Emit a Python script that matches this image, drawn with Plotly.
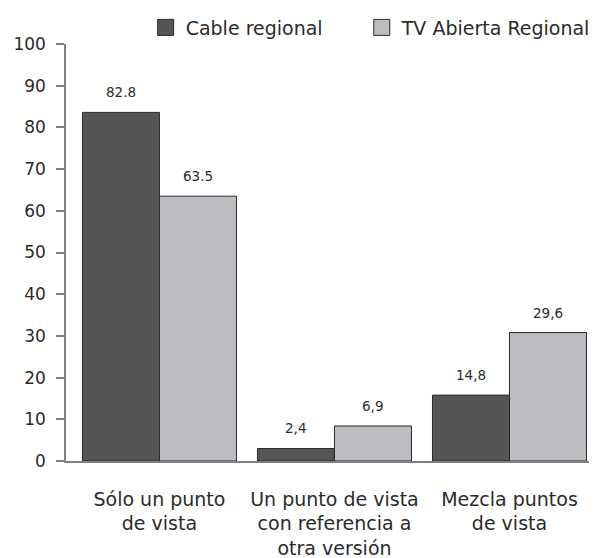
import plotly.graph_objects as go

categorias = ["Sólo un punto<br>de vista", "Un punto de vista<br>con referencia a<br>otra versión", "Mezcla puntos<br>de vista"]
cable = [83.6, 3.0, 15.8]
tv_abierta = [63.5, 8.4, 30.8]
etiquetas_cable = ["82.8", "2,4", "14,8"]
etiquetas_tv = ["63.5", "6,9", "29,6"]
ticks_y = [0, 10, 20, 30, 40, 50, 60, 70, 80, 90, 100]

OSCURO = "#555557"
CLARO = "#bcbdc0"
BORDE = "#2b2b2b"
TEXTO = "#2b2b2b"
FUENTE = "DejaVu Sans"

fig = go.Figure()
fig.add_trace(go.Bar(x=categorias, y=cable, name="Cable regional", marker=dict(color=OSCURO, line=dict(color=BORDE, width=1)), showlegend=False))
fig.add_trace(go.Bar(x=categorias, y=tv_abierta, name="TV Abierta Regional", marker=dict(color=CLARO, line=dict(color=BORDE, width=1)), showlegend=False))

# legend with bigger swatches, one legend box per series
fig.add_trace(go.Scatter(x=[None], y=[None], mode="markers", name="Cable regional", legend="legend",
                         marker=dict(symbol="square", size=22, color=OSCURO, line=dict(color=BORDE, width=1))))
fig.add_trace(go.Scatter(x=[None], y=[None], mode="markers", name="TV Abierta Regional", legend="legend2",
                         marker=dict(symbol="square", size=22, color=CLARO, line=dict(color=BORDE, width=1))))

# value labels above bars
for serie, etiquetas, desplaz in [(cable, etiquetas_cable, -38.5), (tv_abierta, etiquetas_tv, 38.5)]:
    for cat, val, txt in zip(categorias, serie, etiquetas):
        fig.add_annotation(x=cat, y=val, text=txt, showarrow=False, xshift=desplaz, yshift=10,
                           yanchor="bottom", font=dict(family=FUENTE, size=13.5, color=TEXTO))

leyenda = dict(orientation="h", xanchor="left", y=1.085, yanchor="top",
               font=dict(family=FUENTE, size=19, color=TEXTO), itemwidth=30)

# the page body keeps its 8px default margin, so the figure is 8px smaller
fig.update_layout(
    width=589, height=550,
    margin=dict(l=58, r=0, t=36, b=97, autoexpand=False),
    plot_bgcolor="white", paper_bgcolor="white",
    barmode="group", bargap=0.12, bargroupgap=0,
    font=dict(family=FUENTE, size=19, color=TEXTO),
    legend=dict(leyenda, x=0.15),
    legend2=dict(leyenda, x=0.557),
)
fig.update_xaxes(range=[-0.534, 2.5], showline=True, linecolor="#808080", linewidth=1.5,
                 ticks="", ticklabelstandoff=20, tickfont=dict(size=19), showgrid=False)
fig.update_yaxes(range=[0, 100], tickvals=ticks_y, showline=True, linecolor="#808080", linewidth=1.5,
                 ticks="outside", ticklen=8, tickcolor="#808080", tickwidth=1.5, ticklabelstandoff=7,
                 showgrid=False, zeroline=False, tickfont=dict(size=17))

fig.write_html("out.html")
